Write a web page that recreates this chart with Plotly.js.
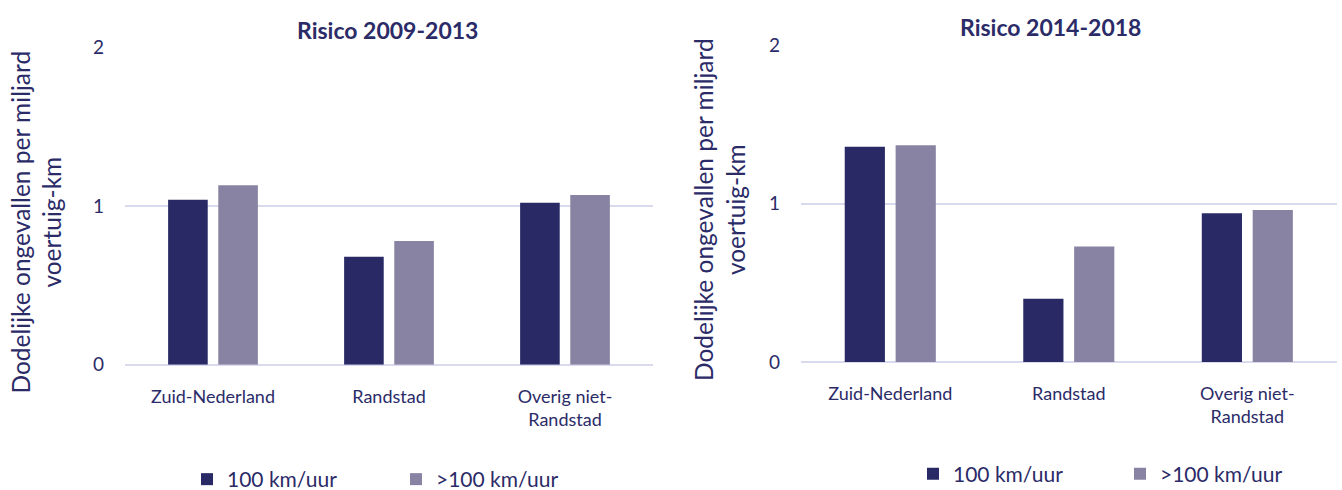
<!DOCTYPE html>
<html>
<head>
<meta charset="utf-8">
<script src="https://cdn.plot.ly/plotly-3.0.1.min.js"></script>
<style>html,body{margin:0;padding:0;background:#fff}#chart{width:1342px;height:490px}</style>
</head>
<body>
<div id="chart"></div>
<script>
// Data
const categories = ["Zuid-Nederland", "Randstad", "Overig niet-<br>Randstad"];
const seriesNames = ["100 km/uur", ">100 km/uur"];
const risk2009_2013_100 = [1.04, 0.68, 1.02];
const risk2009_2013_over100 = [1.13, 0.78, 1.07];
const risk2014_2018_100 = [1.36, 0.40, 0.94];
const risk2014_2018_over100 = [1.37, 0.73, 0.96];
const panelTitles = ["Risico 2009-2013", "Risico 2014-2018"];
const yTitle = "Dodelijke ongevallen per miljard<br>voertuig-km";
const yTicks = [0, 1, 2];

const W = 1342, H = 490;
const FONT = "Lato, 'Open Sans', sans-serif";
const TXT = "#2b2b68";
const DARK = "#292a65";
const LIGHT = "#8983a3";
const GRID = "#dadaef";

function px(x){return x / W;}
function py(y){return 1 - y / H;}

const traces = [
  {type:"bar", x:categories, y:risk2009_2013_100, name:seriesNames[0], marker:{color:DARK}, xaxis:"x", yaxis:"y", legend:"legend"},
  {type:"bar", x:categories, y:risk2009_2013_over100, name:seriesNames[1], marker:{color:LIGHT}, xaxis:"x", yaxis:"y", legend:"legend"},
  {type:"bar", x:categories, y:risk2014_2018_100, name:seriesNames[0], marker:{color:DARK}, xaxis:"x2", yaxis:"y2", legend:"legend2"},
  {type:"bar", x:categories, y:risk2014_2018_over100, name:seriesNames[1], marker:{color:LIGHT}, xaxis:"x2", yaxis:"y2", legend:"legend2"}
];

const xax = {
  showgrid:false, zeroline:false, showline:false, ticks:"",
  ticklabelstandoff:19, automargin:false,
  tickfont:{family:FONT, size:18, color:TXT}
};
const yax = {
  range:[0,2], tickvals:yTicks, showgrid:true, gridcolor:GRID, gridwidth:2,
  zeroline:true, zerolinecolor:GRID, zerolinewidth:2, showline:false, ticks:"",
  ticklabelstandoff:20, automargin:false,
  tickfont:{family:FONT, size:19, color:TXT}
};

const layout = {
  width:W, height:H,
  margin:{l:0, r:0, t:0, b:0, autoexpand:false},
  paper_bgcolor:"#fff", plot_bgcolor:"#fff",
  barmode:"group", bargap:0.43, bargroupgap:0.21,
  xaxis:Object.assign({}, xax, {domain:[px(125), px(653)], anchor:"y"}),
  yaxis:Object.assign({}, yax, {domain:[py(364.7), py(47.3)], anchor:"x"}),
  xaxis2:Object.assign({}, xax, {domain:[px(801), px(1336.6)], anchor:"y2"}),
  yaxis2:Object.assign({}, yax, {domain:[py(362), py(45.4)], anchor:"x2"}),
  legend:{orientation:"h", x:px(187), y:py(479.5), xanchor:"left", yanchor:"middle",
    entrywidth:164, entrywidthmode:"pixels", font:{family:FONT, size:21, color:TXT}, bgcolor:"rgba(0,0,0,0)"},
  legend2:{orientation:"h", x:px(913), y:py(474), xanchor:"left", yanchor:"middle",
    entrywidth:162, entrywidthmode:"pixels", font:{family:FONT, size:21, color:TXT}, bgcolor:"rgba(0,0,0,0)"},
  annotations:[
    {text:"<b>"+panelTitles[0]+"</b>", xref:"paper", yref:"paper", x:px(387.5), y:py(30), xanchor:"center", yanchor:"middle", showarrow:false, font:{family:FONT, size:23, color:TXT}},
    {text:"<b>"+panelTitles[1]+"</b>", xref:"paper", yref:"paper", x:px(1050.5), y:py(26.7), xanchor:"center", yanchor:"middle", showarrow:false, font:{family:FONT, size:23, color:TXT}},
    {text:yTitle, textangle:-90, xref:"paper", yref:"paper", x:px(35.5), y:py(222), xanchor:"center", yanchor:"middle", showarrow:false, font:{family:FONT, size:24.5, color:TXT}},
    {text:yTitle, textangle:-90, xref:"paper", yref:"paper", x:px(719), y:py(210), xanchor:"center", yanchor:"middle", showarrow:false, font:{family:FONT, size:24.5, color:TXT}}
  ]
};

Plotly.newPlot("chart", traces, layout, {displayModeBar:false, staticPlot:true});
</script>
</body>
</html>
